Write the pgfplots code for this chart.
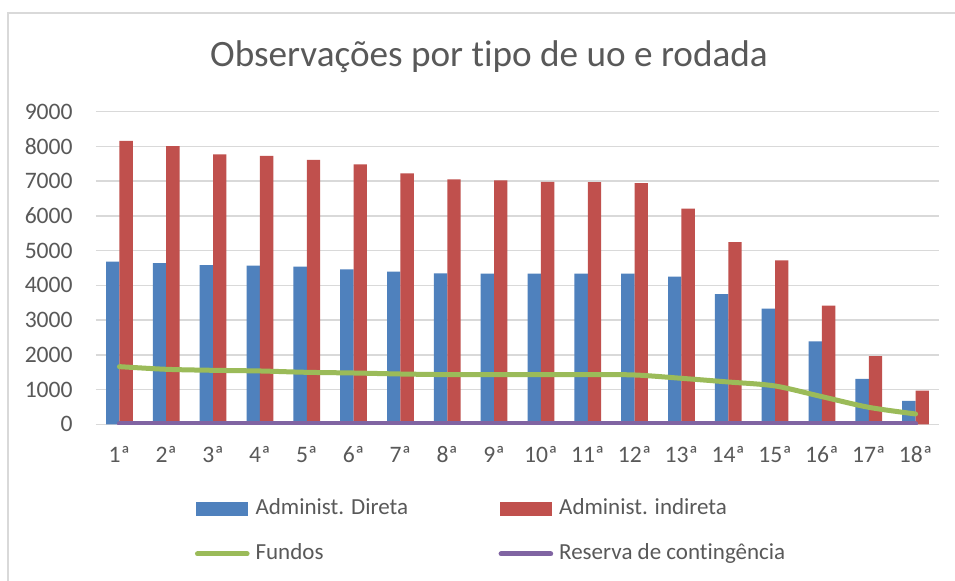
\documentclass[border=0pt]{standalone}
\usepackage{fontspec}
\setmainfont{Carlito}[Ligatures=NoCommon]
\usepackage{pgfplots}
\pgfplotsset{compat=1.18}
\definecolor{txt}{HTML}{595959}
\definecolor{gridc}{HTML}{D9D9D9}
\definecolor{cblue}{HTML}{4F81BD}
\definecolor{cred}{HTML}{C0504D}
\definecolor{cgreen}{HTML}{9BBB59}
\definecolor{cpurple}{HTML}{8064A2}

\begin{document}
\begin{tikzpicture}
\useasboundingbox (0,0) rectangle (477.5pt,290.5pt);
\fill[white] (0,0) rectangle (477.5pt,290.5pt);
% chart frame (only left and top edges are visible)
\draw[gridc, line width=0.7pt] (4pt,0) -- (4pt,284pt) -- (477.5pt,284pt);
\node[anchor=base, text=txt, font=\fontsize{18.6}{22}\selectfont, inner sep=0pt]
  at (244.5pt,257.2pt) {Observações por tipo de uo e rodada};
\begin{axis}[
  at={(48pt,78.35pt)}, anchor=south west,
  scale only axis, width=421.5pt, height=156.3pt,
  xmin=0.5, xmax=18.5, ymin=0, ymax=9000,
  ybar=0pt, bar width=6.67pt,
  axis line style={draw=none},
  ymajorgrids, grid style={gridc, line width=0.7pt},
  major tick length=0pt,
  ytick={0,1000,...,9000},
  xtick={1,...,18},
  xticklabels={1ª,2ª,3ª,4ª,5ª,6ª,7ª,8ª,9ª,10ª,11ª,12ª,13ª,14ª,15ª,16ª,17ª,18ª},
  tick label style={font=\fontsize{11.8}{13}\selectfont, text=txt, inner sep=0pt},
  xticklabel style={yshift=-11pt},
  yticklabel style={xshift=-11.5pt},
  /pgf/number format/assume math mode=true,
  /pgf/number format/1000 sep={},
  scaled y ticks=false,
  legend columns=2,
  legend cell align=left,
  legend style={draw=none, fill=none, inner sep=0pt, outer sep=0pt,
    at={(axis description cs:0,0)}, anchor=north west,
    xshift=49.5pt, yshift=-37.1pt,
    font=\fontsize{11.5}{13}\selectfont, text=txt, row sep=12pt,
    nodes={inner sep=0pt, text height=8pt, text depth=2.5pt},
    /tikz/every odd column/.append style={column sep=3pt}},
]
\addplot[fill=cblue, draw=none,
  legend image code/.code={\fill[cblue] (0pt,-3.5pt) rectangle (26pt,3.5pt);}]
  coordinates {(1,4680)(2,4640)(3,4585)(4,4565)(5,4537)(6,4460)(7,4393)(8,4345)(9,4336)
  (10,4336)(11,4336)(12,4336)(13,4250)(14,3750)(15,3329)(16,2388)(17,1305)(18,671)};
\addlegendentry{\makebox[121.5pt][l]{Administ. Direta}}
\addplot[fill=cred, draw=none,
  legend image code/.code={\fill[cred] (0pt,-3.5pt) rectangle (26pt,3.5pt);}]
  coordinates {(1,8163)(2,8010)(3,7770)(4,7731)(5,7616)(6,7482)(7,7223)(8,7050)(9,7022)
  (10,6983)(11,6974)(12,6945)(13,6206)(14,5247)(15,4719)(16,3415)(17,1966)(18,969)};
\addlegendentry{Administ. indireta}
\addplot[smooth, cgreen, line width=2.5pt, line cap=round,
  legend image code/.code={\draw[cgreen, line width=2.5pt, line cap=round] (0.6pt,0) -- (25.4pt,0);}]
  coordinates {(1,1660)(2,1583)(3,1554)(4,1535)(5,1496)(6,1477)(7,1448)(8,1430)(9,1430)
  (10,1430)(11,1430)(12,1420)(13,1324)(14,1218)(15,1103)(16,796)(17,489)(18,297)};
\addlegendentry{\makebox[121.5pt][l]{Fundos}}
\addplot[sharp plot, cpurple, line width=2.5pt, line cap=round,
  legend image code/.code={\draw[cpurple, line width=2.5pt, line cap=round] (0.6pt,0) -- (25.4pt,0);}]
  coordinates {(1,15)(2,15)(3,15)(4,15)(5,15)(6,15)(7,15)(8,15)(9,15)
  (10,15)(11,15)(12,15)(13,15)(14,15)(15,15)(16,15)(17,15)(18,15)};
\addlegendentry{Reserva de contingência}
\end{axis}
\end{tikzpicture}
\end{document}
